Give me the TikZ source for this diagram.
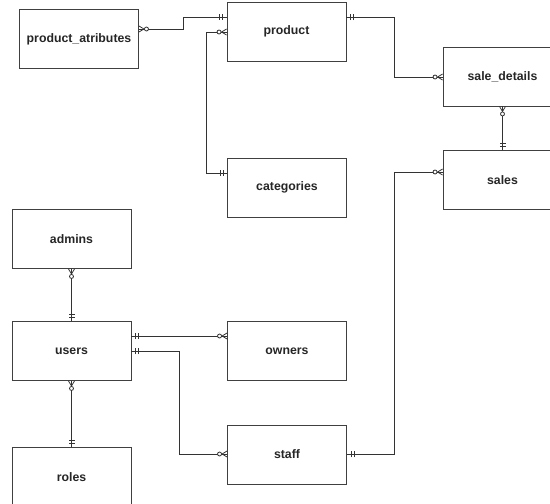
\documentclass[tikz,border=0pt]{standalone}
\usepackage{fontspec}
\setmainfont{Liberation Sans}
\usetikzlibrary{arrows.meta}

% crow's foot with circle: zero or many
\pgfdeclarearrow{
  name = ZeroMany,
  setup code = {
    \pgfarrowssettipend{0pt}
    \pgfarrowssetlineend{0pt}
    \pgfarrowssetbackend{-11pt}
  },
  drawing code = {
    \pgfsetdash{}{0pt}
    \pgfpathmoveto{\pgfpoint{0pt}{3pt}}
    \pgfpathlineto{\pgfpoint{-5pt}{0pt}}
    \pgfpathlineto{\pgfpoint{0pt}{-3pt}}
    \pgfusepathqstroke
    \pgfpathcircle{\pgfpoint{-7.5pt}{0pt}}{2pt}
    \pgfsetfillcolor{white}
    \pgfusepathqfillstroke
  },
}
% double bar: one and only one
\pgfdeclarearrow{
  name = OneOnly,
  setup code = {
    \pgfarrowssettipend{0pt}
    \pgfarrowssetlineend{0pt}
    \pgfarrowssetbackend{-8pt}
  },
  drawing code = {
    \pgfsetdash{}{0pt}
    \pgfpathmoveto{\pgfpoint{-4pt}{3pt}}
    \pgfpathlineto{\pgfpoint{-4pt}{-3pt}}
    \pgfpathmoveto{\pgfpoint{-7pt}{3pt}}
    \pgfpathlineto{\pgfpoint{-7pt}{-3pt}}
    \pgfusepathqstroke
  },
}

\tikzset{
  entity/.style={draw=black!75, line width=0.9pt, fill=white,
    minimum width=119pt, minimum height=59pt, inner sep=0pt,
    font=\fontsize{12.3}{14}\selectfont\bfseries, text=black!85},
  rel/.style={draw=black!80, line width=0.8pt},
}

\begin{document}
\begin{tikzpicture}[x=1pt, y=-1pt]
\useasboundingbox[fill=white] (0,0) rectangle (550,504);

% entities
\node[entity] (pa)    at (79,39)      {product\_atributes};
\node[entity] (prod)  at (286.5,31.5) {product};
\node[entity] (sd)    at (502.5,76.5) {sale\_details};
\node[entity] (sales) at (502.5,180)  {sales};
\node[entity] (cat)   at (287,187.5)  {categories};
\node[entity] (adm)   at (71.5,239)   {admins};
\node[entity] (users) at (71.5,351)   {users};
\node[entity] (own)   at (287,351)    {owners};
\node[entity] (staff) at (287,454.5)  {staff};
\node[entity] (roles) at (71.5,477)   {roles};

% relationships
\draw[rel, ZeroMany-OneOnly] (pa.east |- 0,29) -- (183,29) -- (183,17) -- (prod.west |- 0,17);
\draw[rel, ZeroMany-OneOnly] (prod.west |- 0,32) -- (206,32) -- (206,173) -- (cat.west |- 0,173);
\draw[rel, OneOnly-ZeroMany] (prod.east |- 0,17) -- (394,17) -- (394,77) -- (sd.west |- 0,77);
\draw[rel, ZeroMany-OneOnly] (sd.south) -- (sales.north);
\draw[rel, ZeroMany-OneOnly] (sales.west |- 0,172) -- (394,172) -- (394,454) -- (staff.east |- 0,454);
\draw[rel, ZeroMany-OneOnly] (adm.south) -- (users.north);
\draw[rel, OneOnly-ZeroMany] (users.east |- 0,336) -- (own.west |- 0,336);
\draw[rel, OneOnly-ZeroMany] (users.east |- 0,351) -- (179,351) -- (179,454) -- (staff.west |- 0,454);
\draw[rel, ZeroMany-OneOnly] (users.south) -- (roles.north);
\end{tikzpicture}
\end{document}
